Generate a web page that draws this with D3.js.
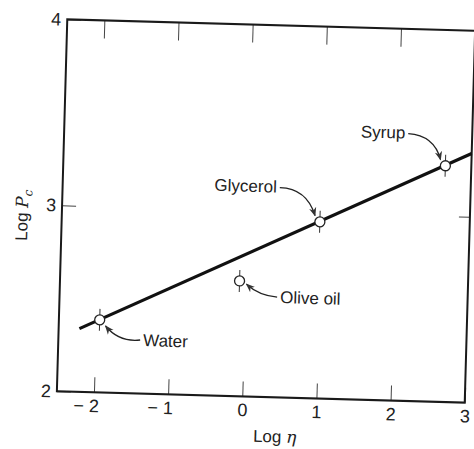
<!DOCTYPE html>
<html lang="en">
<head>
<meta charset="utf-8">
<title>Log Pc vs Log eta</title>
<script src="https://d3js.org/d3.v7.min.js"></script>
<style>
  body { margin: 0; background: #fff; }
  text { font-family: "Liberation Sans", Arial, sans-serif; fill: #222; }
</style>
</head>
<body>
<script>
// data
var substances = ["Water", "Olive oil", "Glycerol", "Syrup"];
var logEta = [-1.95, -0.08, 0.98, 2.65];
var logPc = [2.39, 2.62, 2.95, 3.27];

// fitted straight line (end points)
var fitLogEta = [-2.22, 3.0];
var fitLogPc = [2.34, 3.34];

var xTicks = [-2, -1, 0, 1, 2, 3];
var yTicks = [2, 3, 4];

// layout
var width = 474, height = 449;
var frame = { left: 62, right: 470, top: 25, bottom: 397 };
var skew = 1.6; // the scanned page is slightly turned

// label placement relative to each point (px): label anchor, curve start, control, end
var callouts = {
  "Water":     { anchor: "start", tx: 44, ty: 25, sx: 41, sy: 19, cx: 20, cy: 22, ex: 6, ey: 6 },
  "Olive oil": { anchor: "start", tx: 41, ty: 21, sx: 38, sy: 15, cx: 20, cy: 14, ex: 7, ey: 3 },
  "Glycerol":  { anchor: "end",   tx: -44, ty: -28, sx: -41, sy: -33, cx: -14, cy: -33, ex: -5, ey: -6 },
  "Syrup":     { anchor: "end",   tx: -41, ty: -26, sx: -38, sy: -31, cx: -12, cy: -30, ex: -5, ey: -6 }
};

var svg = d3.select("body").append("svg")
  .attr("width", width)
  .attr("height", height);

svg.append("defs").append("marker")
  .attr("id", "head")
  .attr("viewBox", "0 0 10 10")
  .attr("refX", 9).attr("refY", 5)
  .attr("markerWidth", 7).attr("markerHeight", 7)
  .attr("orient", "auto")
  .append("path")
  .attr("d", "M0,1 L10,5 L0,9 L3,5 Z")
  .attr("fill", "#333");

var cx0 = (frame.left + frame.right) / 2, cy0 = (frame.top + frame.bottom) / 2;
var g = svg.append("g")
  .attr("transform", "rotate(" + skew + "," + cx0 + "," + cy0 + ")");

var x = d3.scaleLinear().domain([-2.5, 3]).range([frame.left, frame.right]);
var y = d3.scaleLinear().domain([2, 4]).range([frame.bottom, frame.top]);

// axes (ticks point inwards)
var fmt = function(d) { return d < 0 ? "\u2212 " + Math.abs(d) : String(d); };

var xAxis = g.append("g")
  .attr("transform", "translate(0," + frame.bottom + ")")
  .call(d3.axisBottom(x).tickValues(xTicks).tickFormat(fmt)
    .tickSizeInner(-15).tickSizeOuter(0).tickPadding(7));
xAxis.selectAll("text").attr("dx", function(d) { return d < 0 ? -8 : 0; });

g.append("g")
  .attr("transform", "translate(0," + frame.top + ")")
  .call(d3.axisTop(x).tickValues(xTicks.slice(0, 5)).tickFormat("")
    .tickSizeInner(-18).tickSizeOuter(0));

g.append("g")
  .attr("transform", "translate(" + frame.left + ",0)")
  .call(d3.axisLeft(y).tickValues(yTicks).tickFormat(d3.format("d"))
    .tickSizeInner(-14).tickSizeOuter(0).tickPadding(6));

g.append("g")
  .attr("transform", "translate(" + frame.right + ",0)")
  .call(d3.axisRight(y).tickValues([3]).tickFormat("")
    .tickSizeInner(-11).tickSizeOuter(0));

g.selectAll(".domain").remove();
g.selectAll(".tick line").attr("stroke", "#444").attr("stroke-width", 1);
g.selectAll(".tick text")
  .attr("font-size", 18)
  .attr("font-family", "'Liberation Sans', Arial, sans-serif")
  .attr("fill", "#222");

// frame
g.append("rect")
  .attr("x", frame.left).attr("y", frame.top)
  .attr("width", frame.right - frame.left)
  .attr("height", frame.bottom - frame.top)
  .attr("fill", "none")
  .attr("stroke", "#1a1a1a")
  .attr("stroke-width", 2);

// fitted line
var fit = fitLogEta.map(function(d, i) { return [d, fitLogPc[i]]; });
g.append("path")
  .datum(fit)
  .attr("d", d3.line().x(function(d) { return x(d[0]); }).y(function(d) { return y(d[1]); }))
  .attr("fill", "none")
  .attr("stroke", "#111")
  .attr("stroke-width", 3.2);

// points
var pts = substances.map(function(s, i) { return { name: s, ex: logEta[i], pc: logPc[i] }; });

var pg = g.selectAll(".pt").data(pts).enter().append("g")
  .attr("class", "pt")
  .attr("transform", function(d) { return "translate(" + x(d.ex) + "," + y(d.pc) + ")"; });

pg.append("line")
  .attr("x1", 0).attr("x2", 0).attr("y1", -11).attr("y2", 11)
  .attr("stroke", "#333").attr("stroke-width", 1);

pg.append("circle")
  .attr("r", 5)
  .attr("fill", "#fff")
  .attr("stroke", "#222")
  .attr("stroke-width", 1.3);

// callouts with curved arrows
pg.append("path")
  .attr("d", function(d) {
    var c = callouts[d.name];
    return "M" + c.sx + "," + c.sy + " Q" + c.cx + "," + c.cy + " " + c.ex + "," + c.ey;
  })
  .attr("fill", "none")
  .attr("stroke", "#222")
  .attr("stroke-width", 1.3)
  .attr("marker-end", "url(#head)");

pg.append("text")
  .attr("x", function(d) { return callouts[d.name].tx; })
  .attr("y", function(d) { return callouts[d.name].ty; })
  .attr("text-anchor", function(d) { return callouts[d.name].anchor; })
  .attr("font-size", 17)
  .text(function(d) { return d.name; });

// axis titles
var xt = g.append("text")
  .attr("x", 281).attr("y", 442)
  .attr("text-anchor", "middle")
  .attr("font-size", 17);
xt.append("tspan").text("Log ");
xt.append("tspan").attr("font-family", "'DejaVu Serif', serif").attr("font-style", "italic").text("\u03b7");

var yt = g.append("text")
  .attr("transform", "translate(28,222) rotate(-90)")
  .attr("text-anchor", "middle")
  .attr("font-size", 17);
yt.append("tspan").text("Log ");
yt.append("tspan").attr("font-family", "'DejaVu Serif', serif").attr("font-style", "italic").text("P");
yt.append("tspan").attr("font-family", "'DejaVu Serif', serif").attr("font-style", "italic")
  .attr("font-size", 12).attr("dy", 4).text("c");
</script>
</body>
</html>
